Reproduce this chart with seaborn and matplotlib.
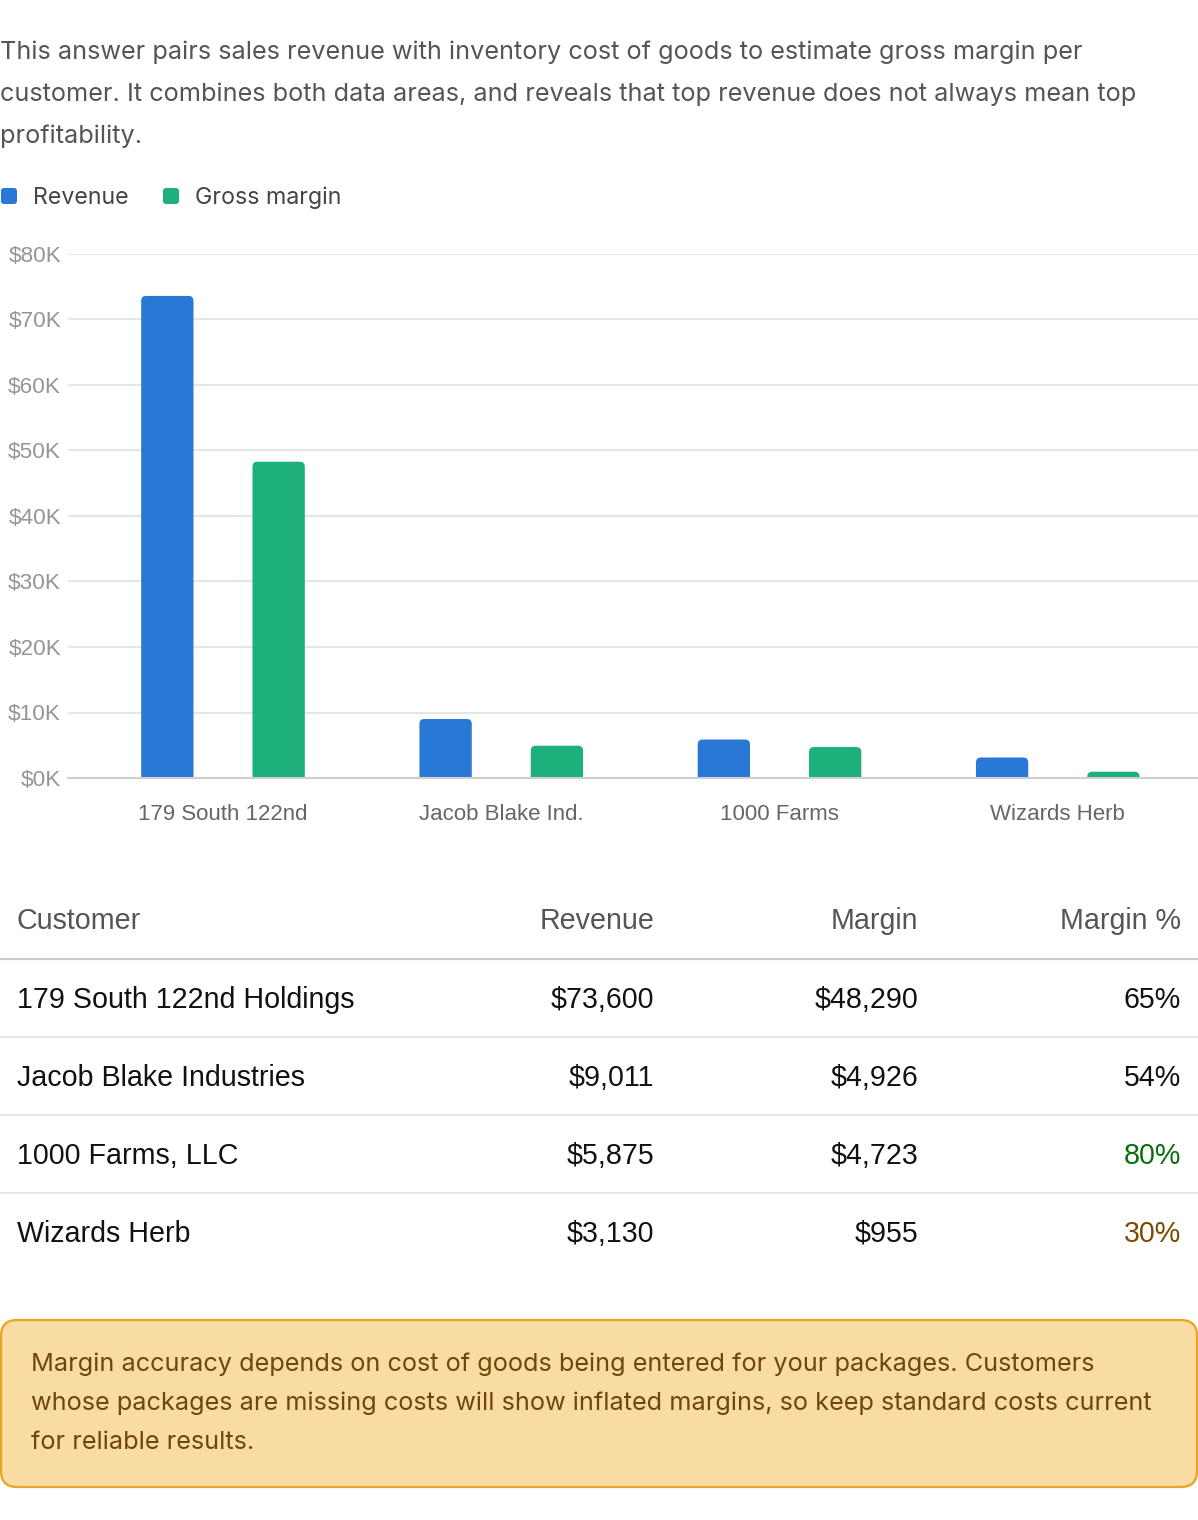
import numpy as np
import pandas as pd
import seaborn as sns
import matplotlib.pyplot as plt
from matplotlib.patches import FancyBboxPatch
from matplotlib.ticker import FuncFormatter

sns.set_theme(style='white')
plt.rcParams['font.family'] = ['Liberation Sans', 'DejaVu Sans']

# data
customers = ['179 South 122nd Holdings', 'Jacob Blake Industries', '1000 Farms, LLC', 'Wizards Herb']
short_names = ['179 South 122nd', 'Jacob Blake Ind.', '1000 Farms', 'Wizards Herb']
revenue = [73600, 9011, 5875, 3130]
margin = [48290, 4926, 4723, 955]
margin_pct = [65, 54, 80, 30]
series = ['Revenue', 'Gross margin']
yticks = [0, 10000, 20000, 30000, 40000, 50000, 60000, 70000, 80000]

intro = ['This answer pairs sales revenue with inventory cost of goods to estimate gross margin per',
         'customer. It combines both data areas, and reveals that top revenue does not always mean top',
         'profitability.']
note = ['Margin accuracy depends on cost of goods being entered for your packages. Customers',
        'whose packages are missing costs will show inflated margins, so keep standard costs current',
        'for reliable results.']

blue = '#2A78D6'
green = '#1DB07A'
W, H = 1198, 1520

df = pd.DataFrame({
    'customer': short_names * 2,
    'series': [series[0]] * 4 + [series[1]] * 4,
    'value': revenue + margin,
})

fig = plt.figure(figsize=(W / 100, H / 100), dpi=100)
fig.patch.set_facecolor('white')
ax = fig.add_axes([68 / W, 1 - 778 / H, (W - 68) / W, (778 - 254) / H])

sns.barplot(data=df, x='customer', y='value', hue='series', palette=[blue, green],
            width=0.8, gap=0.53, saturation=1, legend=False, ax=ax)

ax.set_xlim(-0.557, 3.504)
ax.set_ylim(0, 80000)
ax.set_yticks(yticks)
ax.yaxis.set_major_formatter(FuncFormatter(lambda v, _: '$%dK' % (v / 1000)))
ax.set_xlabel('')
ax.set_ylabel('')
ax.yaxis.grid(True, color='#e6e6e6', lw=1.5)
ax.set_axisbelow(True)
sns.despine(ax=ax, left=True)
ax.spines['bottom'].set_color('#cfcfcf')
ax.spines['bottom'].set_linewidth(1.5)
ax.tick_params(length=0)
ax.tick_params(axis='y', pad=5, labelsize=16.2, labelcolor='#959595')
ax.tick_params(axis='x', pad=19, labelsize=16, labelcolor='#666666')

# round the top of each bar
xpp = (3.504 + 0.557) / (W - 68)
ypp = 80000 / (778 - 254)
rad = 5
for p in list(ax.patches):
    x, w, h = p.get_x(), p.get_width(), p.get_height()
    fc = p.get_facecolor()
    p.remove()
    ax.add_patch(FancyBboxPatch((x, -rad * ypp), w, h + rad * ypp,
                                boxstyle='round,pad=0,rounding_size=%f' % (rad * xpp),
                                mutation_aspect=ypp / xpp, fc=fc, ec='none', zorder=2))

# page overlay in pixel coordinates
ov = fig.add_axes([0, 0, 1, 1])
ov.set_xlim(0, W)
ov.set_ylim(H, 0)
ov.axis('off')

body_font = ['Inter', 'DejaVu Sans']
for i, line in enumerate(intro):
    ov.text(0, 59 + 42 * i, line, fontsize=18.2, color='#555555', family=body_font, va='baseline')

# legend
for x0, lab, col in [(0, series[0], blue), (162, series[1], green)]:
    ov.add_patch(FancyBboxPatch((x0 + 1, 188), 16, 16, boxstyle='round,pad=0,rounding_size=3',
                                fc=col, ec='none'))
    ov.text(x0 + 33, 204, lab, fontsize=16.7, color='#444444', family=body_font, va='baseline')

# table
fs = 20.6
hdr_y = 929
ov.text(17, hdr_y, 'Customer', fontsize=fs, color='#555555', va='baseline')
ov.text(654, hdr_y, 'Revenue', fontsize=fs, color='#555555', va='baseline', ha='right')
ov.text(918, hdr_y, 'Margin', fontsize=fs, color='#555555', va='baseline', ha='right')
ov.text(1181, hdr_y, 'Margin %', fontsize=fs, color='#555555', va='baseline', ha='right')
ov.plot([0, W], [959, 959], color='#cccccc', lw=1.6)

pct_colors = {80: '#0B6E0B', 30: '#7A4A00'}
for i in range(len(customers)):
    yb = 1008 + 78 * i
    ov.text(17, yb, customers[i], fontsize=fs, color='#111111', va='baseline')
    ov.text(654, yb, '${:,}'.format(revenue[i]), fontsize=fs, color='#111111', va='baseline', ha='right')
    ov.text(918, yb, '${:,}'.format(margin[i]), fontsize=fs, color='#111111', va='baseline', ha='right')
    ov.text(1181, yb, '%d%%' % margin_pct[i], fontsize=fs, va='baseline', ha='right',
            color=pct_colors.get(margin_pct[i], '#111111'))
    if i < len(customers) - 1:
        ov.plot([0, W], [1037 + 78 * i] * 2, color='#e3e3e3', lw=1.3)

# callout
ov.add_patch(FancyBboxPatch((1, 1320), W - 2, 167, boxstyle='round,pad=0,rounding_size=16',
                            fc='#F8DCA4', ec='#EBA320', lw=1.6))
for i, line in enumerate(note):
    ov.text(31, 1371 + 39 * i, line, fontsize=18.2, color='#70460A', family=body_font, va='baseline')

fig.savefig('out.png', dpi=100, facecolor='white')
